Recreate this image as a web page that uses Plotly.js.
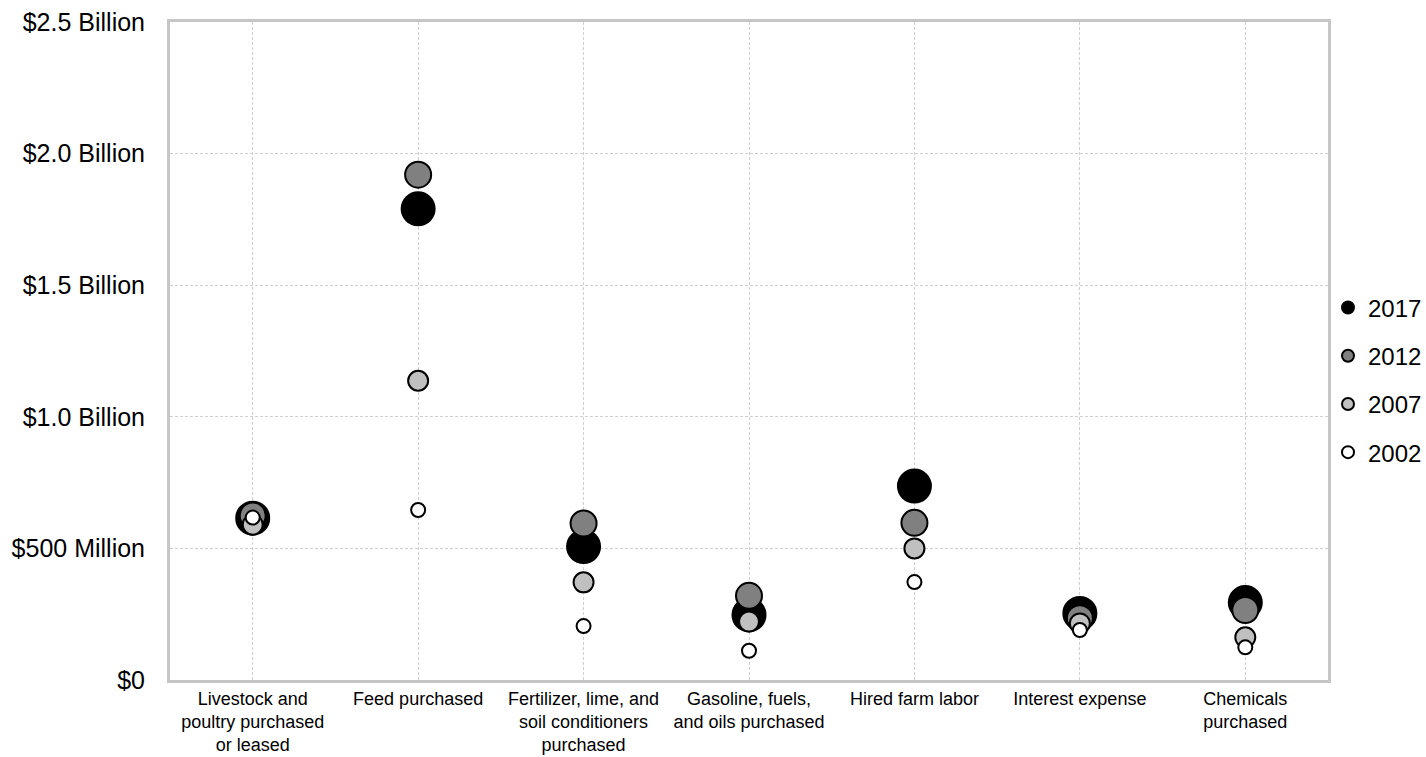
<!DOCTYPE html>
<html>
<head>
<meta charset="utf-8">
<script src="https://cdn.plot.ly/plotly-3.0.1.min.js"></script>
<style>html,body{margin:0;padding:0;background:#fff;}#chart{width:1426px;height:757px;}</style>
</head>
<body>
<div id="chart"></div>
<script>
// Categories (x tick labels)
const categories = [
  "Livestock and<br>poultry purchased<br>or leased",
  "Feed purchased",
  "Fertilizer, lime, and<br>soil conditioners<br>purchased",
  "Gasoline, fuels,<br>and oils purchased",
  "Hired farm labor",
  "Interest expense",
  "Chemicals<br>purchased"
];
// Values in billions of dollars
const v2017 = [0.615, 1.79, 0.507, 0.247, 0.737, 0.253, 0.294];
const v2012 = [0.625, 1.92, 0.595, 0.320, 0.597, 0.235, 0.266];
const v2007 = [0.590, 1.137, 0.371, 0.222, 0.500, 0.215, 0.162];
const v2002 = [0.617, 0.646, 0.205, 0.111, 0.372, 0.190, 0.124];
const years = ["2017", "2012", "2007", "2002"];
// Y tick values/labels
const yTickVals = [0, 0.5, 1.0, 1.5, 2.0, 2.5];
const yTickText = ["$0", "$500 Million", "$1.0 Billion", "$1.5 Billion", "$2.0 Billion", "$2.5 Billion"];

const series = [v2017, v2012, v2007, v2002];
const fills = ["#000000", "#808080", "#c0c0c0", "#ffffff"];
const sizes = [33, 26, 20, 14];

const traces = series.map((vals, i) => ({
  type: "scatter",
  mode: "markers",
  x: categories,
  y: vals,
  name: years[i],
  legendgroup: "g" + i,
  marker: {
    size: sizes[i],
    color: fills[i],
    line: {color: "#000000", width: 2}
  },
  hoverinfo: "none"
}));

const layout = {
  width: 1426,
  height: 757,
  margin: {l: 170, r: 98, t: 22, b: 77, autoexpand: false},
  paper_bgcolor: "#ffffff",
  plot_bgcolor: "#ffffff",
  font: {family: "Liberation Sans, Arial, sans-serif", color: "#000000"},
  showlegend: true,
  legend: {
    x: 1.0, xanchor: "left",
    y: 0.456, yanchor: "middle",
    font: {size: 24, family: "Liberation Sans, Arial, sans-serif"},
    itemsizing: "constant",
    traceorder: "grouped",
    tracegroupgap: 14,
    bgcolor: "rgba(0,0,0,0)"
  },
  xaxis: {
    type: "category",
    categoryorder: "array",
    categoryarray: categories,
    range: [-0.5, 6.5],
    showgrid: true,
    gridcolor: "#d0d0d0",
    griddash: "3px,2px",
    gridwidth: 1,
    showline: true,
    mirror: true,
    linecolor: "#c6c6c6",
    linewidth: 3,
    ticks: "",
    tickfont: {size: 18},
    zeroline: false,
    fixedrange: true
  },
  yaxis: {
    range: [0, 2.5],
    tickvals: yTickVals,
    ticktext: yTickText,
    showgrid: true,
    gridcolor: "#d0d0d0",
    griddash: "3px,2px",
    gridwidth: 1,
    showline: true,
    mirror: true,
    linecolor: "#c6c6c6",
    linewidth: 3,
    ticks: "",
    ticklabelstandoff: 17,
    tickfont: {size: 25},
    zeroline: false,
    fixedrange: true
  }
};

Plotly.newPlot("chart", traces, layout, {displayModeBar: false, staticPlot: true});
</script>
</body>
</html>
